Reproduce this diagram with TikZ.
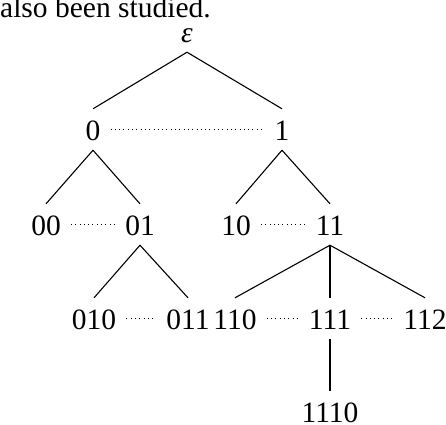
\documentclass[tikz,border=0pt]{standalone}
\usepackage{fontspec}
\setmainfont{Liberation Serif}
\usetikzlibrary{positioning}

\begin{document}
\begin{tikzpicture}[x=1pt, y=-1pt, every node/.style={anchor=base, inner xsep=0pt, inner ysep=10pt, text height=21pt, text depth=0pt, font=\fontsize{29.5}{34}\selectfont},
    edge/.style={line width=1.1pt},
    sib/.style={line width=1pt, dash pattern=on 0.9pt off 3.4pt, shorten <=10pt, shorten >=10pt}]
      \clip (0,0) rectangle (446,424);
      \node[anchor=base west, inner sep=0pt] (txt) at (0,17) {also been studied.};
      % the tree
      \node[text height=12pt] (eps) at (187,42) {\textit{ε}};
      \node (n0) at (93,140) {0};
      \node (n1) at (282,140) {1};
      \node (n00) at (46,235) {00};
      \node (n01) at (140,235) {01};
      \node (n10) at (236,235) {10};
      \node (n11) at (330,235) {11};
      \node (n010) at (94,329) {010};
      \node (n011) at (188,329) {011};
      \node (n110) at (235,329) {110};
      \node (n111) at (330,329) {111};
      \node (n112) at (425,329) {112};
      \node (n1110) at (330,422) {1110};
      \foreach \a/\b in {eps/n0, eps/n1, n0/n00, n0/n01, n1/n10, n1/n11, n01/n010, n01/n011, n11/n110, n11/n111, n11/n112, n111/n1110}
        \draw[edge] (\a.south) -- (\b.north);
      % siblings
      \foreach \a/\b in {n0/n1, n00/n01, n10/n11, n010/n011, n110/n111, n111/n112}
        \draw[sib] (\a.east) -- (\b.west);
\end{tikzpicture}
\end{document}
